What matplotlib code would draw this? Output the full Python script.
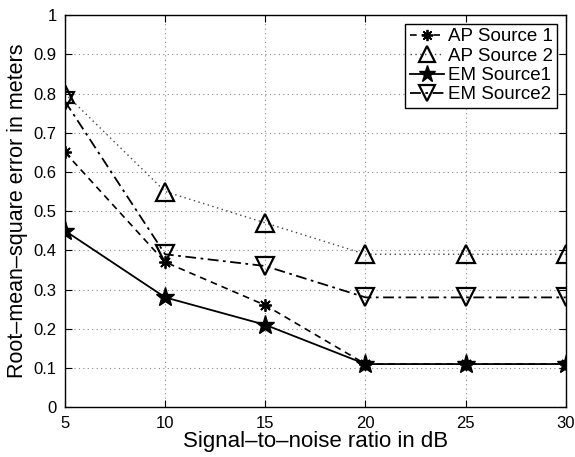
import matplotlib
matplotlib.use("Agg")
import matplotlib.pyplot as plt

plt.rcParams["font.family"] = ["Liberation Sans", "DejaVu Sans"]

snr_db = [5, 10, 15, 20, 25, 30]
ap_source1 = [0.65, 0.37, 0.26, 0.11, 0.11, 0.11]
ap_source2 = [0.80, 0.55, 0.47, 0.39, 0.39, 0.39]
em_source1 = [0.45, 0.28, 0.21, 0.11, 0.11, 0.11]
em_source2 = [0.78, 0.39, 0.36, 0.28, 0.28, 0.28]
x_ticks = [5, 10, 15, 20, 25, 30]
y_ticks = [0, 0.1, 0.2, 0.3, 0.4, 0.5, 0.6, 0.7, 0.8, 0.9, 1]

fig = plt.figure(figsize=(5.75, 4.57), dpi=100)
ax = fig.add_axes([0.113, 0.109, 0.871, 0.858])

ax.plot(snr_db, ap_source1, color="k", linestyle=(0, (4, 3)), linewidth=1.2,
        marker=(8, 2, 0), markersize=9, markeredgewidth=1.3, label="AP Source 1")
ax.plot(snr_db, ap_source2, color="#444444", linestyle=(0, (1, 2.5)), linewidth=1.0,
        marker="^", markersize=13, markerfacecolor="none", markeredgecolor="k",
        markeredgewidth=1.6, label="AP Source 2")
ax.plot(snr_db, em_source1, color="k", linestyle="-", linewidth=1.3,
        marker="*", markersize=14, markeredgewidth=1.0, label="EM Source1")
ax.plot(snr_db, em_source2, color="k", linestyle=(0, (6, 2.5, 1.5, 2.5)), linewidth=1.3,
        marker="v", markersize=13, markerfacecolor="none", markeredgewidth=1.6,
        label="EM Source2")

ax.set_xlim(5, 30)
ax.set_ylim(0, 1)
ax.set_xticks(x_ticks)
ax.set_yticks(y_ticks)
ax.set_yticklabels([f"{v:g}" for v in y_ticks])
ax.tick_params(direction="in", top=True, right=True, labelsize=12, length=5, pad=6)
ax.grid(True, color="#888888", linestyle=(0, (1, 3)), linewidth=0.8)

ax.set_xlabel("Signal\u2013to\u2013noise ratio in dB", fontsize=16, va="center")
ax.xaxis.set_label_coords(0.5, -0.087)
ax.set_ylabel("Root\u2013mean\u2013square error in meters", fontsize=15.5, va="center")
ax.yaxis.set_label_coords(-0.094, 0.5)
for spine in ax.spines.values():
    spine.set_linewidth(1.0)

leg = ax.legend(loc="upper right", fontsize=13.5, fancybox=False, edgecolor="k",
                framealpha=1, handlelength=1.8, handletextpad=0.2, borderpad=0.25,
                labelspacing=0.12, borderaxespad=0.45, markerscale=0.9)
leg.get_frame().set_linewidth(1.0)

fig.savefig("out.png", dpi=100)
